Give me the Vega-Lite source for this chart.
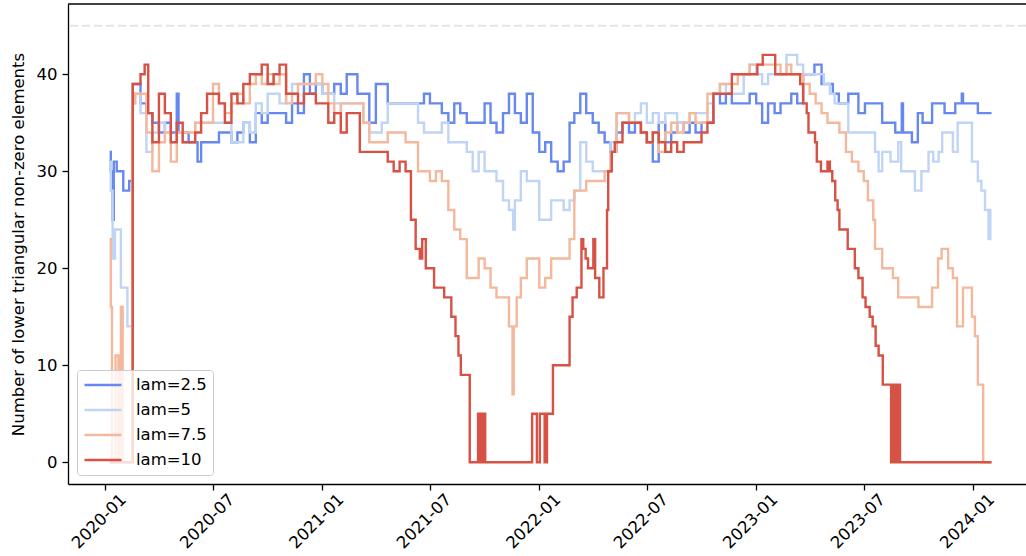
{
  "$schema": "https://vega.github.io/schema/vega-lite/v6.json",
  "width": 958,
  "height": 480,
  "autosize": {"type": "none"},
  "padding": {"left": 68, "top": 4, "right": 0, "bottom": 72},
  "config": {
    "view": {"stroke": null},
    "font": "DejaVu Sans",
    "axis": {"domainColor": "black", "domainWidth": 1.3, "tickColor": "black", "tickWidth": 1.3, "tickSize": 6, "labelColor": "black", "labelFontSize": 16.5, "labelFont": "DejaVu Sans", "grid": false, "titleFont": "DejaVu Sans", "titleFontSize": 16.5, "titleFontWeight": "normal", "titleColor": "black"},
    "legend": {"orient": "bottom-left", "offset": 9, "labelFontSize": 16.5, "labelFont": "DejaVu Sans", "labelColor": "black", "symbolType": "stroke", "symbolStrokeWidth": 2.5, "symbolSize": 1369, "clipHeight": 18, "rowPadding": 7, "labelOffset": 13, "strokeColor": "#cccccc", "cornerRadius": 3, "fillColor": "rgba(255,255,255,0.8)", "padding": 6}
  },
  "datasets": {
    "series": [
      {"d":"2020-01-09","s":"lam=2.5","v":32},{"d":"2020-01-11","s":"lam=2.5","v":30},{"d":"2020-01-14","s":"lam=2.5","v":25},{"d":"2020-01-16","s":"lam=2.5","v":31},{"d":"2020-01-21","s":"lam=2.5","v":30},{"d":"2020-02-01","s":"lam=2.5","v":28},{"d":"2020-02-11","s":"lam=2.5","v":29},{"d":"2020-02-17","s":"lam=2.5","v":39},{"d":"2020-03-01","s":"lam=2.5","v":37},{"d":"2020-03-11","s":"lam=2.5","v":36},{"d":"2020-03-21","s":"lam=2.5","v":35},{"d":"2020-04-01","s":"lam=2.5","v":34},{"d":"2020-04-11","s":"lam=2.5","v":35},{"d":"2020-04-21","s":"lam=2.5","v":34},{"d":"2020-05-01","s":"lam=2.5","v":38},{"d":"2020-05-04","s":"lam=2.5","v":34},{"d":"2020-05-21","s":"lam=2.5","v":33},{"d":"2020-06-05","s":"lam=2.5","v":31},{"d":"2020-06-11","s":"lam=2.5","v":33},{"d":"2020-07-11","s":"lam=2.5","v":34},{"d":"2020-08-01","s":"lam=2.5","v":33},{"d":"2020-08-11","s":"lam=2.5","v":34},{"d":"2020-08-21","s":"lam=2.5","v":35},{"d":"2020-09-01","s":"lam=2.5","v":33},{"d":"2020-09-11","s":"lam=2.5","v":36},{"d":"2020-09-21","s":"lam=2.5","v":35},{"d":"2020-10-01","s":"lam=2.5","v":36},{"d":"2020-11-01","s":"lam=2.5","v":35},{"d":"2020-11-11","s":"lam=2.5","v":37},{"d":"2020-11-21","s":"lam=2.5","v":36},{"d":"2020-12-01","s":"lam=2.5","v":40},{"d":"2020-12-11","s":"lam=2.5","v":38},{"d":"2020-12-21","s":"lam=2.5","v":39},{"d":"2021-01-01","s":"lam=2.5","v":38},{"d":"2021-01-21","s":"lam=2.5","v":39},{"d":"2021-02-01","s":"lam=2.5","v":38},{"d":"2021-02-11","s":"lam=2.5","v":40},{"d":"2021-03-01","s":"lam=2.5","v":38},{"d":"2021-03-21","s":"lam=2.5","v":35},{"d":"2021-04-01","s":"lam=2.5","v":39},{"d":"2021-04-21","s":"lam=2.5","v":37},{"d":"2021-06-21","s":"lam=2.5","v":38},{"d":"2021-07-01","s":"lam=2.5","v":37},{"d":"2021-07-21","s":"lam=2.5","v":36},{"d":"2021-08-01","s":"lam=2.5","v":35},{"d":"2021-08-11","s":"lam=2.5","v":37},{"d":"2021-08-21","s":"lam=2.5","v":36},{"d":"2021-09-01","s":"lam=2.5","v":35},{"d":"2021-10-01","s":"lam=2.5","v":37},{"d":"2021-10-11","s":"lam=2.5","v":35},{"d":"2021-10-21","s":"lam=2.5","v":34},{"d":"2021-11-01","s":"lam=2.5","v":36},{"d":"2021-11-11","s":"lam=2.5","v":38},{"d":"2021-11-21","s":"lam=2.5","v":36},{"d":"2021-12-01","s":"lam=2.5","v":35},{"d":"2021-12-11","s":"lam=2.5","v":38},{"d":"2021-12-21","s":"lam=2.5","v":34},{"d":"2022-01-01","s":"lam=2.5","v":32},{"d":"2022-01-11","s":"lam=2.5","v":33},{"d":"2022-01-21","s":"lam=2.5","v":31},{"d":"2022-02-01","s":"lam=2.5","v":30},{"d":"2022-02-11","s":"lam=2.5","v":31},{"d":"2022-02-21","s":"lam=2.5","v":35},{"d":"2022-03-01","s":"lam=2.5","v":36},{"d":"2022-03-11","s":"lam=2.5","v":38},{"d":"2022-03-21","s":"lam=2.5","v":36},{"d":"2022-04-01","s":"lam=2.5","v":35},{"d":"2022-04-11","s":"lam=2.5","v":34},{"d":"2022-04-21","s":"lam=2.5","v":33},{"d":"2022-05-01","s":"lam=2.5","v":32},{"d":"2022-05-11","s":"lam=2.5","v":34},{"d":"2022-05-21","s":"lam=2.5","v":35},{"d":"2022-06-01","s":"lam=2.5","v":34},{"d":"2022-06-11","s":"lam=2.5","v":35},{"d":"2022-06-21","s":"lam=2.5","v":34},{"d":"2022-07-01","s":"lam=2.5","v":33},{"d":"2022-07-11","s":"lam=2.5","v":31},{"d":"2022-07-21","s":"lam=2.5","v":35},{"d":"2022-08-01","s":"lam=2.5","v":33},{"d":"2022-08-11","s":"lam=2.5","v":34},{"d":"2022-08-21","s":"lam=2.5","v":35},{"d":"2022-09-01","s":"lam=2.5","v":34},{"d":"2022-09-11","s":"lam=2.5","v":35},{"d":"2022-09-21","s":"lam=2.5","v":34},{"d":"2022-10-01","s":"lam=2.5","v":35},{"d":"2022-10-21","s":"lam=2.5","v":38},{"d":"2022-11-01","s":"lam=2.5","v":37},{"d":"2022-11-11","s":"lam=2.5","v":38},{"d":"2022-11-21","s":"lam=2.5","v":37},{"d":"2022-12-21","s":"lam=2.5","v":38},{"d":"2023-01-01","s":"lam=2.5","v":37},{"d":"2023-01-11","s":"lam=2.5","v":35},{"d":"2023-01-21","s":"lam=2.5","v":37},{"d":"2023-02-01","s":"lam=2.5","v":36},{"d":"2023-02-11","s":"lam=2.5","v":37},{"d":"2023-03-01","s":"lam=2.5","v":38},{"d":"2023-03-11","s":"lam=2.5","v":37},{"d":"2023-03-21","s":"lam=2.5","v":40},{"d":"2023-04-09","s":"lam=2.5","v":41},{"d":"2023-04-21","s":"lam=2.5","v":39},{"d":"2023-05-10","s":"lam=2.5","v":38},{"d":"2023-05-20","s":"lam=2.5","v":37},{"d":"2023-06-05","s":"lam=2.5","v":38},{"d":"2023-06-22","s":"lam=2.5","v":36},{"d":"2023-07-03","s":"lam=2.5","v":37},{"d":"2023-08-01","s":"lam=2.5","v":35},{"d":"2023-08-23","s":"lam=2.5","v":34},{"d":"2023-09-03","s":"lam=2.5","v":37},{"d":"2023-09-05","s":"lam=2.5","v":34},{"d":"2023-09-20","s":"lam=2.5","v":33},{"d":"2023-09-30","s":"lam=2.5","v":36},{"d":"2023-10-08","s":"lam=2.5","v":35},{"d":"2023-10-24","s":"lam=2.5","v":37},{"d":"2023-11-14","s":"lam=2.5","v":36},{"d":"2023-12-02","s":"lam=2.5","v":37},{"d":"2023-12-13","s":"lam=2.5","v":38},{"d":"2023-12-15","s":"lam=2.5","v":37},{"d":"2024-01-09","s":"lam=2.5","v":36},{"d":"2024-02-01","s":"lam=2.5","v":36},

      {"d":"2020-01-09","s":"lam=5","v":31},{"d":"2020-01-11","s":"lam=5","v":28},{"d":"2020-01-14","s":"lam=5","v":21},{"d":"2020-01-18","s":"lam=5","v":24},{"d":"2020-01-28","s":"lam=5","v":18},{"d":"2020-02-08","s":"lam=5","v":14},{"d":"2020-02-16","s":"lam=5","v":37},{"d":"2020-02-21","s":"lam=5","v":38},{"d":"2020-03-01","s":"lam=5","v":36},{"d":"2020-03-11","s":"lam=5","v":32},{"d":"2020-03-21","s":"lam=5","v":34},{"d":"2020-04-01","s":"lam=5","v":35},{"d":"2020-04-11","s":"lam=5","v":34},{"d":"2020-04-21","s":"lam=5","v":33},{"d":"2020-05-01","s":"lam=5","v":34},{"d":"2020-05-11","s":"lam=5","v":33},{"d":"2020-06-01","s":"lam=5","v":35},{"d":"2020-08-01","s":"lam=5","v":33},{"d":"2020-08-21","s":"lam=5","v":35},{"d":"2020-09-01","s":"lam=5","v":34},{"d":"2020-09-11","s":"lam=5","v":37},{"d":"2020-09-21","s":"lam=5","v":36},{"d":"2020-10-01","s":"lam=5","v":38},{"d":"2020-10-21","s":"lam=5","v":37},{"d":"2020-11-01","s":"lam=5","v":38},{"d":"2020-11-11","s":"lam=5","v":39},{"d":"2021-01-01","s":"lam=5","v":38},{"d":"2021-01-21","s":"lam=5","v":37},{"d":"2021-03-11","s":"lam=5","v":35},{"d":"2021-03-21","s":"lam=5","v":34},{"d":"2021-04-11","s":"lam=5","v":35},{"d":"2021-04-21","s":"lam=5","v":37},{"d":"2021-06-11","s":"lam=5","v":35},{"d":"2021-06-21","s":"lam=5","v":34},{"d":"2021-07-21","s":"lam=5","v":35},{"d":"2021-08-01","s":"lam=5","v":33},{"d":"2021-09-01","s":"lam=5","v":32},{"d":"2021-09-11","s":"lam=5","v":30},{"d":"2021-09-21","s":"lam=5","v":32},{"d":"2021-10-01","s":"lam=5","v":30},{"d":"2021-10-21","s":"lam=5","v":29},{"d":"2021-11-01","s":"lam=5","v":27},{"d":"2021-11-11","s":"lam=5","v":26},{"d":"2021-11-18","s":"lam=5","v":24},{"d":"2021-11-21","s":"lam=5","v":27},{"d":"2021-12-01","s":"lam=5","v":30},{"d":"2021-12-11","s":"lam=5","v":29},{"d":"2022-01-01","s":"lam=5","v":25},{"d":"2022-01-21","s":"lam=5","v":27},{"d":"2022-02-11","s":"lam=5","v":26},{"d":"2022-02-21","s":"lam=5","v":27},{"d":"2022-03-01","s":"lam=5","v":28},{"d":"2022-03-11","s":"lam=5","v":33},{"d":"2022-03-21","s":"lam=5","v":31},{"d":"2022-04-01","s":"lam=5","v":30},{"d":"2022-05-01","s":"lam=5","v":33},{"d":"2022-05-11","s":"lam=5","v":36},{"d":"2022-06-01","s":"lam=5","v":35},{"d":"2022-06-11","s":"lam=5","v":36},{"d":"2022-06-21","s":"lam=5","v":37},{"d":"2022-07-01","s":"lam=5","v":35},{"d":"2022-07-11","s":"lam=5","v":36},{"d":"2022-07-21","s":"lam=5","v":35},{"d":"2022-08-01","s":"lam=5","v":36},{"d":"2022-08-21","s":"lam=5","v":35},{"d":"2022-09-11","s":"lam=5","v":36},{"d":"2022-10-11","s":"lam=5","v":37},{"d":"2022-10-21","s":"lam=5","v":38},{"d":"2022-11-01","s":"lam=5","v":39},{"d":"2022-11-11","s":"lam=5","v":38},{"d":"2022-12-11","s":"lam=5","v":40},{"d":"2022-12-21","s":"lam=5","v":41},{"d":"2023-01-01","s":"lam=5","v":40},{"d":"2023-01-11","s":"lam=5","v":39},{"d":"2023-01-21","s":"lam=5","v":40},{"d":"2023-02-21","s":"lam=5","v":42},{"d":"2023-03-11","s":"lam=5","v":41},{"d":"2023-03-21","s":"lam=5","v":40},{"d":"2023-04-25","s":"lam=5","v":39},{"d":"2023-05-05","s":"lam=5","v":38},{"d":"2023-05-13","s":"lam=5","v":37},{"d":"2023-06-05","s":"lam=5","v":34},{"d":"2023-07-20","s":"lam=5","v":32},{"d":"2023-07-26","s":"lam=5","v":30},{"d":"2023-08-01","s":"lam=5","v":32},{"d":"2023-08-15","s":"lam=5","v":31},{"d":"2023-08-28","s":"lam=5","v":33},{"d":"2023-09-02","s":"lam=5","v":30},{"d":"2023-09-25","s":"lam=5","v":28},{"d":"2023-10-06","s":"lam=5","v":30},{"d":"2023-10-18","s":"lam=5","v":32},{"d":"2023-10-26","s":"lam=5","v":31},{"d":"2023-11-04","s":"lam=5","v":32},{"d":"2023-11-10","s":"lam=5","v":34},{"d":"2023-11-28","s":"lam=5","v":32},{"d":"2023-12-06","s":"lam=5","v":35},{"d":"2023-12-30","s":"lam=5","v":31},{"d":"2024-01-09","s":"lam=5","v":29},{"d":"2024-01-15","s":"lam=5","v":28},{"d":"2024-01-21","s":"lam=5","v":26},{"d":"2024-01-27","s":"lam=5","v":23},{"d":"2024-01-30","s":"lam=5","v":26},{"d":"2024-02-01","s":"lam=5","v":26},

      {"d":"2020-01-09","s":"lam=7.5","v":23},{"d":"2020-01-11","s":"lam=7.5","v":16},{"d":"2020-01-13","s":"lam=7.5","v":0},{"d":"2020-01-19","s":"lam=7.5","v":11},{"d":"2020-01-24","s":"lam=7.5","v":0},{"d":"2020-01-28","s":"lam=7.5","v":16},{"d":"2020-01-31","s":"lam=7.5","v":0},{"d":"2020-02-16","s":"lam=7.5","v":37},{"d":"2020-02-21","s":"lam=7.5","v":38},{"d":"2020-03-11","s":"lam=7.5","v":34},{"d":"2020-03-21","s":"lam=7.5","v":30},{"d":"2020-04-01","s":"lam=7.5","v":33},{"d":"2020-04-11","s":"lam=7.5","v":34},{"d":"2020-04-21","s":"lam=7.5","v":31},{"d":"2020-05-01","s":"lam=7.5","v":34},{"d":"2020-06-01","s":"lam=7.5","v":35},{"d":"2020-07-01","s":"lam=7.5","v":39},{"d":"2020-07-11","s":"lam=7.5","v":37},{"d":"2020-07-21","s":"lam=7.5","v":36},{"d":"2020-08-01","s":"lam=7.5","v":37},{"d":"2020-08-11","s":"lam=7.5","v":38},{"d":"2020-08-21","s":"lam=7.5","v":37},{"d":"2020-09-01","s":"lam=7.5","v":39},{"d":"2020-09-11","s":"lam=7.5","v":40},{"d":"2020-09-21","s":"lam=7.5","v":39},{"d":"2020-10-01","s":"lam=7.5","v":40},{"d":"2020-10-11","s":"lam=7.5","v":39},{"d":"2020-10-21","s":"lam=7.5","v":40},{"d":"2020-11-01","s":"lam=7.5","v":37},{"d":"2020-11-11","s":"lam=7.5","v":38},{"d":"2020-11-21","s":"lam=7.5","v":39},{"d":"2020-12-21","s":"lam=7.5","v":40},{"d":"2021-01-01","s":"lam=7.5","v":39},{"d":"2021-01-11","s":"lam=7.5","v":37},{"d":"2021-01-21","s":"lam=7.5","v":36},{"d":"2021-02-01","s":"lam=7.5","v":37},{"d":"2021-03-11","s":"lam=7.5","v":35},{"d":"2021-03-21","s":"lam=7.5","v":33},{"d":"2021-04-21","s":"lam=7.5","v":34},{"d":"2021-05-21","s":"lam=7.5","v":33},{"d":"2021-06-11","s":"lam=7.5","v":30},{"d":"2021-07-01","s":"lam=7.5","v":29},{"d":"2021-07-11","s":"lam=7.5","v":30},{"d":"2021-07-21","s":"lam=7.5","v":29},{"d":"2021-08-01","s":"lam=7.5","v":26},{"d":"2021-08-11","s":"lam=7.5","v":24},{"d":"2021-08-21","s":"lam=7.5","v":23},{"d":"2021-09-01","s":"lam=7.5","v":19},{"d":"2021-09-21","s":"lam=7.5","v":21},{"d":"2021-10-01","s":"lam=7.5","v":20},{"d":"2021-10-11","s":"lam=7.5","v":18},{"d":"2021-10-21","s":"lam=7.5","v":17},{"d":"2021-11-11","s":"lam=7.5","v":14},{"d":"2021-11-17","s":"lam=7.5","v":7},{"d":"2021-11-19","s":"lam=7.5","v":14},{"d":"2021-11-24","s":"lam=7.5","v":17},{"d":"2021-12-01","s":"lam=7.5","v":19},{"d":"2021-12-11","s":"lam=7.5","v":21},{"d":"2022-01-01","s":"lam=7.5","v":18},{"d":"2022-01-11","s":"lam=7.5","v":19},{"d":"2022-01-21","s":"lam=7.5","v":21},{"d":"2022-02-21","s":"lam=7.5","v":23},{"d":"2022-03-01","s":"lam=7.5","v":28},{"d":"2022-03-21","s":"lam=7.5","v":29},{"d":"2022-04-21","s":"lam=7.5","v":30},{"d":"2022-05-01","s":"lam=7.5","v":32},{"d":"2022-05-11","s":"lam=7.5","v":36},{"d":"2022-06-01","s":"lam=7.5","v":35},{"d":"2022-06-21","s":"lam=7.5","v":34},{"d":"2022-07-01","s":"lam=7.5","v":33},{"d":"2022-07-11","s":"lam=7.5","v":34},{"d":"2022-07-21","s":"lam=7.5","v":32},{"d":"2022-08-01","s":"lam=7.5","v":34},{"d":"2022-08-11","s":"lam=7.5","v":35},{"d":"2022-08-21","s":"lam=7.5","v":34},{"d":"2022-09-01","s":"lam=7.5","v":35},{"d":"2022-09-11","s":"lam=7.5","v":36},{"d":"2022-09-21","s":"lam=7.5","v":35},{"d":"2022-10-11","s":"lam=7.5","v":38},{"d":"2022-11-01","s":"lam=7.5","v":39},{"d":"2022-12-01","s":"lam=7.5","v":40},{"d":"2022-12-21","s":"lam=7.5","v":41},{"d":"2023-02-11","s":"lam=7.5","v":40},{"d":"2023-02-21","s":"lam=7.5","v":41},{"d":"2023-03-01","s":"lam=7.5","v":40},{"d":"2023-03-21","s":"lam=7.5","v":39},{"d":"2023-04-01","s":"lam=7.5","v":38},{"d":"2023-04-11","s":"lam=7.5","v":37},{"d":"2023-04-21","s":"lam=7.5","v":36},{"d":"2023-05-01","s":"lam=7.5","v":35},{"d":"2023-05-21","s":"lam=7.5","v":34},{"d":"2023-06-01","s":"lam=7.5","v":32},{"d":"2023-06-11","s":"lam=7.5","v":31},{"d":"2023-06-22","s":"lam=7.5","v":30},{"d":"2023-07-01","s":"lam=7.5","v":29},{"d":"2023-07-08","s":"lam=7.5","v":27},{"d":"2023-07-17","s":"lam=7.5","v":25},{"d":"2023-07-20","s":"lam=7.5","v":22},{"d":"2023-08-01","s":"lam=7.5","v":20},{"d":"2023-08-19","s":"lam=7.5","v":19},{"d":"2023-08-28","s":"lam=7.5","v":17},{"d":"2023-10-01","s":"lam=7.5","v":16},{"d":"2023-10-24","s":"lam=7.5","v":18},{"d":"2023-11-03","s":"lam=7.5","v":21},{"d":"2023-11-09","s":"lam=7.5","v":22},{"d":"2023-11-20","s":"lam=7.5","v":20},{"d":"2023-11-28","s":"lam=7.5","v":19},{"d":"2023-12-05","s":"lam=7.5","v":14},{"d":"2023-12-15","s":"lam=7.5","v":18},{"d":"2023-12-30","s":"lam=7.5","v":15},{"d":"2024-01-04","s":"lam=7.5","v":13},{"d":"2024-01-09","s":"lam=7.5","v":8},{"d":"2024-01-18","s":"lam=7.5","v":0},{"d":"2024-02-01","s":"lam=7.5","v":0},

      {"d":"2020-01-09","s":"lam=10","v":0},{"d":"2020-02-17","s":"lam=10","v":39},{"d":"2020-03-01","s":"lam=10","v":40},{"d":"2020-03-08","s":"lam=10","v":41},{"d":"2020-03-14","s":"lam=10","v":36},{"d":"2020-03-21","s":"lam=10","v":33},{"d":"2020-04-01","s":"lam=10","v":38},{"d":"2020-04-11","s":"lam=10","v":36},{"d":"2020-04-21","s":"lam=10","v":33},{"d":"2020-05-01","s":"lam=10","v":35},{"d":"2020-05-11","s":"lam=10","v":33},{"d":"2020-06-01","s":"lam=10","v":34},{"d":"2020-06-11","s":"lam=10","v":36},{"d":"2020-06-21","s":"lam=10","v":38},{"d":"2020-07-11","s":"lam=10","v":37},{"d":"2020-07-21","s":"lam=10","v":35},{"d":"2020-08-01","s":"lam=10","v":38},{"d":"2020-08-11","s":"lam=10","v":37},{"d":"2020-08-21","s":"lam=10","v":39},{"d":"2020-09-01","s":"lam=10","v":40},{"d":"2020-09-21","s":"lam=10","v":41},{"d":"2020-10-01","s":"lam=10","v":39},{"d":"2020-10-11","s":"lam=10","v":40},{"d":"2020-10-21","s":"lam=10","v":41},{"d":"2020-11-01","s":"lam=10","v":38},{"d":"2020-11-21","s":"lam=10","v":37},{"d":"2020-12-01","s":"lam=10","v":38},{"d":"2020-12-21","s":"lam=10","v":37},{"d":"2021-01-11","s":"lam=10","v":35},{"d":"2021-01-21","s":"lam=10","v":36},{"d":"2021-02-01","s":"lam=10","v":34},{"d":"2021-02-11","s":"lam=10","v":36},{"d":"2021-03-05","s":"lam=10","v":32},{"d":"2021-04-21","s":"lam=10","v":31},{"d":"2021-05-01","s":"lam=10","v":30},{"d":"2021-05-11","s":"lam=10","v":31},{"d":"2021-05-21","s":"lam=10","v":30},{"d":"2021-05-30","s":"lam=10","v":25},{"d":"2021-06-07","s":"lam=10","v":22},{"d":"2021-06-14","s":"lam=10","v":21},{"d":"2021-06-18","s":"lam=10","v":23},{"d":"2021-06-24","s":"lam=10","v":20},{"d":"2021-07-08","s":"lam=10","v":18},{"d":"2021-07-25","s":"lam=10","v":17},{"d":"2021-08-06","s":"lam=10","v":15},{"d":"2021-08-13","s":"lam=10","v":13},{"d":"2021-08-18","s":"lam=10","v":11},{"d":"2021-08-22","s":"lam=10","v":9},{"d":"2021-09-06","s":"lam=10","v":0},{"d":"2021-09-20","s":"lam=10","v":5},{"d":"2021-09-22","s":"lam=10","v":0},{"d":"2021-09-24","s":"lam=10","v":5},{"d":"2021-09-26","s":"lam=10","v":0},{"d":"2021-09-28","s":"lam=10","v":5},{"d":"2021-09-30","s":"lam=10","v":0},{"d":"2021-10-01","s":"lam=10","v":5},{"d":"2021-10-02","s":"lam=10","v":0},{"d":"2021-12-20","s":"lam=10","v":5},{"d":"2021-12-28","s":"lam=10","v":0},{"d":"2022-01-02","s":"lam=10","v":5},{"d":"2022-01-10","s":"lam=10","v":0},{"d":"2022-01-14","s":"lam=10","v":5},{"d":"2022-01-24","s":"lam=10","v":10},{"d":"2022-02-21","s":"lam=10","v":15},{"d":"2022-02-26","s":"lam=10","v":17},{"d":"2022-03-05","s":"lam=10","v":18},{"d":"2022-03-13","s":"lam=10","v":23},{"d":"2022-03-16","s":"lam=10","v":22},{"d":"2022-03-20","s":"lam=10","v":21},{"d":"2022-03-24","s":"lam=10","v":20},{"d":"2022-04-02","s":"lam=10","v":23},{"d":"2022-04-05","s":"lam=10","v":19},{"d":"2022-04-12","s":"lam=10","v":17},{"d":"2022-04-19","s":"lam=10","v":20},{"d":"2022-04-25","s":"lam=10","v":26},{"d":"2022-04-27","s":"lam=10","v":30},{"d":"2022-05-03","s":"lam=10","v":32},{"d":"2022-05-08","s":"lam=10","v":33},{"d":"2022-05-21","s":"lam=10","v":35},{"d":"2022-06-21","s":"lam=10","v":34},{"d":"2022-07-01","s":"lam=10","v":33},{"d":"2022-07-11","s":"lam=10","v":34},{"d":"2022-07-21","s":"lam=10","v":33},{"d":"2022-08-01","s":"lam=10","v":32},{"d":"2022-08-11","s":"lam=10","v":33},{"d":"2022-08-21","s":"lam=10","v":32},{"d":"2022-09-01","s":"lam=10","v":33},{"d":"2022-10-01","s":"lam=10","v":34},{"d":"2022-10-11","s":"lam=10","v":35},{"d":"2022-10-21","s":"lam=10","v":38},{"d":"2022-11-21","s":"lam=10","v":40},{"d":"2023-01-03","s":"lam=10","v":41},{"d":"2023-01-12","s":"lam=10","v":42},{"d":"2023-02-02","s":"lam=10","v":40},{"d":"2023-03-16","s":"lam=10","v":39},{"d":"2023-03-21","s":"lam=10","v":37},{"d":"2023-03-27","s":"lam=10","v":36},{"d":"2023-03-30","s":"lam=10","v":34},{"d":"2023-04-10","s":"lam=10","v":33},{"d":"2023-04-13","s":"lam=10","v":31},{"d":"2023-04-20","s":"lam=10","v":30},{"d":"2023-05-01","s":"lam=10","v":31},{"d":"2023-05-05","s":"lam=10","v":30},{"d":"2023-05-09","s":"lam=10","v":29},{"d":"2023-05-14","s":"lam=10","v":27},{"d":"2023-05-18","s":"lam=10","v":26},{"d":"2023-05-21","s":"lam=10","v":24},{"d":"2023-06-04","s":"lam=10","v":22},{"d":"2023-06-16","s":"lam=10","v":20},{"d":"2023-06-22","s":"lam=10","v":19},{"d":"2023-06-29","s":"lam=10","v":17},{"d":"2023-07-04","s":"lam=10","v":16},{"d":"2023-07-11","s":"lam=10","v":15},{"d":"2023-07-16","s":"lam=10","v":14},{"d":"2023-07-21","s":"lam=10","v":12},{"d":"2023-07-26","s":"lam=10","v":11},{"d":"2023-08-02","s":"lam=10","v":8},{"d":"2023-08-16","s":"lam=10","v":0},{"d":"2023-08-17","s":"lam=10","v":8},{"d":"2023-08-19","s":"lam=10","v":0},{"d":"2023-08-20","s":"lam=10","v":8},{"d":"2023-08-22","s":"lam=10","v":0},{"d":"2023-08-23","s":"lam=10","v":8},{"d":"2023-08-25","s":"lam=10","v":0},{"d":"2023-08-26","s":"lam=10","v":8},{"d":"2023-08-28","s":"lam=10","v":0},{"d":"2023-08-29","s":"lam=10","v":8},{"d":"2023-08-31","s":"lam=10","v":0},{"d":"2024-02-01","s":"lam=10","v":0}
    ]
  },
  "layer": [
    {
      "data": {"values": [{}]},
      "mark": {"type": "rule", "color": "#e3e3e3", "strokeWidth": 2, "strokeDash": [8, 4]},
      "encoding": {"y": {"datum": 45, "type": "quantitative", "scale": {"domain": [-2.25, 47.25], "nice": false, "zero": false}, "title": "Number of lower triangular non-zero elements"}}
    },
    {
      "data": {"values": [{}]},
      "mark": {"type": "rule", "color": "black", "strokeWidth": 1.3},
      "encoding": {"y": {"datum": 47.25, "type": "quantitative", "scale": {"domain": [-2.25, 47.25], "nice": false, "zero": false}, "title": "Number of lower triangular non-zero elements"}}
    },
    {
      "data": {"name": "series"},
      "mark": {"type": "line", "interpolate": "step-after", "strokeWidth": 2.4},
      "encoding": {
        "x": {
          "field": "d", "type": "temporal",
          "scale": {"domain": [{"year": 2019, "month": 10, "date": 31}, {"year": 2024, "month": 3, "date": 30}], "nice": false},
          "axis": {
            "title": null, "format": "%Y-%m", "labelAngle": -45, "labelAlign": "center", "labelBaseline": "middle", "labelPadding": 31, "labelOffset": -6, "labelOverlap": false, "labelFlush": false,
            "values": [{"year": 2020, "month": 1, "date": 1}, {"year": 2020, "month": 7, "date": 1}, {"year": 2021, "month": 1, "date": 1}, {"year": 2021, "month": 7, "date": 1}, {"year": 2022, "month": 1, "date": 1}, {"year": 2022, "month": 7, "date": 1}, {"year": 2023, "month": 1, "date": 1}, {"year": 2023, "month": 7, "date": 1}, {"year": 2024, "month": 1, "date": 1}]
          }
        },
        "y": {
          "field": "v", "type": "quantitative",
          "scale": {"domain": [-2.25, 47.25], "nice": false, "zero": false},
          "title": "Number of lower triangular non-zero elements",
          "axis": {"values": [0, 10, 20, 30, 40], "labelPadding": 5, "titlePadding": 10}
        },
        "color": {
          "field": "s", "type": "nominal", "title": null,
          "scale": {"domain": ["lam=2.5", "lam=5", "lam=7.5", "lam=10"], "range": ["#6788ee", "#c0d4f5", "#f4b89c", "#d65244"]}
        }
      }
    }
  ]
}
